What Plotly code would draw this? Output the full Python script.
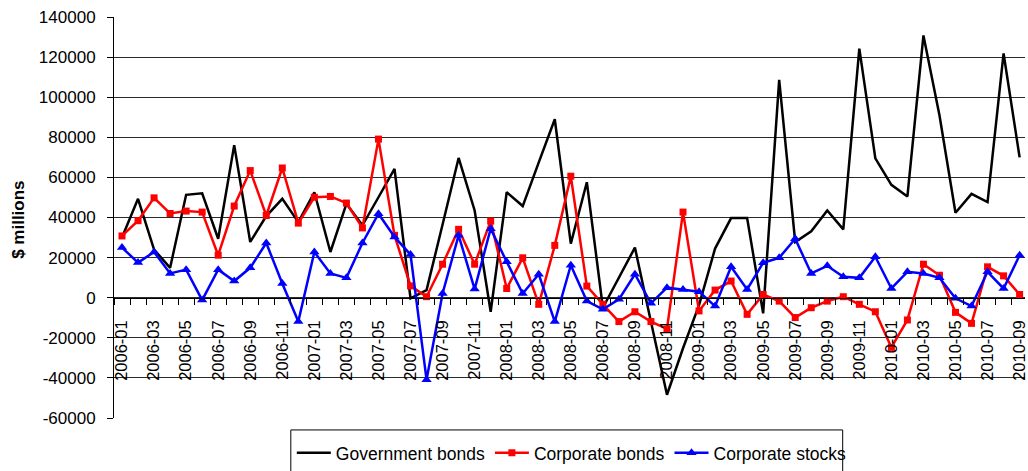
import pandas as pd
import plotly.graph_objects as go

# Monthly net flows, $ millions
months = [p.strftime("%Y-%m") for p in pd.period_range("2006-01", "2010-09", freq="M")]

government_bonds = [
    30000, 49300, 24000, 14900, 51300, 52100, 29400, 76100, 27800, 40700,
    49300, 37700, 52600, 22800, 46800, 36100, 50100, 64200, -300, 3800,
    36500, 69700, 43500, -7000, 52600, 45700, 67500, 89000, 27000, 57600,
    -5000, 10000, 25000, -12000, -48400, -25200, -3700, 24500, 39700, 39700,
    -7800, 108600, 27800, 33100, 43500, 34100, 124200, 69500, 56300, 50500,
    130800, 91000, 42400, 51800, 47700, 121800, 70000,
]
corporate_bonds = [
    30800, 38400, 49800, 42000, 43200, 42700, 21200, 45700, 63400, 41000,
    64700, 37200, 50100, 50500, 47200, 34800, 79100, 31100, 5900, 500,
    16700, 34100, 16700, 38200, 4600, 19900, -3300, 26100, 60600, 5800,
    -3300, -11900, -7000, -11900, -15600, 42700, -6600, 3800, 8300, -8300,
    1600, -1700, -9900, -5000, -1700, 500, -3300, -7000, -24800, -11100,
    16700, 11200, -7300, -12800, 15400, 10900, 1600,
]
corporate_stocks = [
    25000, 17500, 22800, 12100, 14000, -1200, 14000, 8300, 14900, 27300,
    7100, -11900, 22800, 12100, 9900, 27300, 41900, 30300, 21500, -40900,
    2100, 31100, 4300, 34400, 17900, 2100, 11700, -11900, 16200, -1700,
    -5800, -800, 11700, -2800, 5000, 4100, 3000, -4200, 15400, 4100,
    17400, 19900, 29400, 12100, 15900, 10400, 9900, 20400, 4600, 12900,
    12100, 9900, -300, -4200, 12900, 4600, 21200,
]

y_tick_values = [-60000, -40000, -20000, 0, 20000, 40000, 60000, 80000, 100000, 120000, 140000]
y_tick_labels = [str(v) for v in y_tick_values]

x_idx = list(range(len(months)))
label_idx = x_idx[::2]
label_text = [months[i] for i in label_idx]

FONT = "Liberation Sans, Arial, sans-serif"
W, H = 1028, 471
ML, MR, MT, MB = 113.5, 0, 17, 51
PW, PH = W - ML - MR, H - MT - MB
STEP = 16.09  # pixels per month


def px_x(px):
    return (px - ML) / PW


def px_y(py):
    return (H - MB - py) / PH


fig = go.Figure()
fig.add_trace(go.Scatter(
    x=x_idx, y=government_bonds, name="Government bonds", mode="lines",
    line=dict(color="black", width=2.5),
))
fig.add_trace(go.Scatter(
    x=x_idx, y=corporate_bonds, name="Corporate bonds", mode="lines+markers",
    line=dict(color="#ff0000", width=2.5),
    marker=dict(symbol="square", size=7, color="#ff0000"),
))
fig.add_trace(go.Scatter(
    x=x_idx, y=corporate_stocks, name="Corporate stocks", mode="lines+markers",
    line=dict(color="#0000ff", width=2.5),
    marker=dict(symbol="triangle-up", size=9, color="#0000ff"),
))

y_min, y_max = y_tick_values[0], y_tick_values[-1]
zero_pos = (0 - y_min) / (y_max - y_min)

fig.update_layout(
    width=W, height=H,
    margin=dict(l=ML, r=MR, t=MT, b=MB, pad=0),
    paper_bgcolor="white", plot_bgcolor="white",
    font=dict(family=FONT, size=17, color="black"),
    xaxis=dict(
        range=[-0.5, PW / STEP - 0.5],
        anchor="free", position=zero_pos,
        showgrid=False, zeroline=False,
        showline=True, linecolor="black", linewidth=1,
        tickmode="array", tickvals=label_idx, ticktext=label_text,
        ticks="", tickangle=-90, ticklabelstandoff=15,
        ticklabeloverflow="allow",
        tickfont=dict(size=16.5),
        minor=dict(
            tickmode="array", tickvals=[i - 0.5 for i in x_idx] + [x_idx[-1] + 0.5],
            ticks="outside", ticklen=6, tickcolor="black", tickwidth=1, showgrid=False,
        ),
    ),
    yaxis=dict(
        range=[y_min, y_max],
        tickmode="array", tickvals=y_tick_values, ticktext=y_tick_labels,
        showgrid=True, gridcolor="#2a2a2a", gridwidth=1,
        zeroline=False,
        showline=True, linecolor="black", linewidth=1,
        ticks="outside", ticklen=6, tickcolor="black",
        ticklabelstandoff=8,
        tickfont=dict(size=17),
    ),
    showlegend=True,
    legend=dict(
        orientation="h", x=px_x(292), xanchor="left", y=px_y(437), yanchor="top",
        bgcolor="rgba(0,0,0,0)", borderwidth=0,
        font=dict(size=17.5), itemwidth=34,
    ),
    annotations=[dict(
        text="<b>$ millions</b>", textangle=-90, showarrow=False,
        xref="paper", yref="paper", x=px_x(18), y=px_y(221),
        xanchor="center", yanchor="middle", font=dict(size=17),
    )],
    shapes=[dict(
        type="rect", xref="paper", yref="paper",
        x0=px_x(291), x1=px_x(845), y0=px_y(432), y1=px_y(476),
        line=dict(color="black", width=1), fillcolor="rgba(0,0,0,0)",
    )],
)

fig.write_html("out.html")
